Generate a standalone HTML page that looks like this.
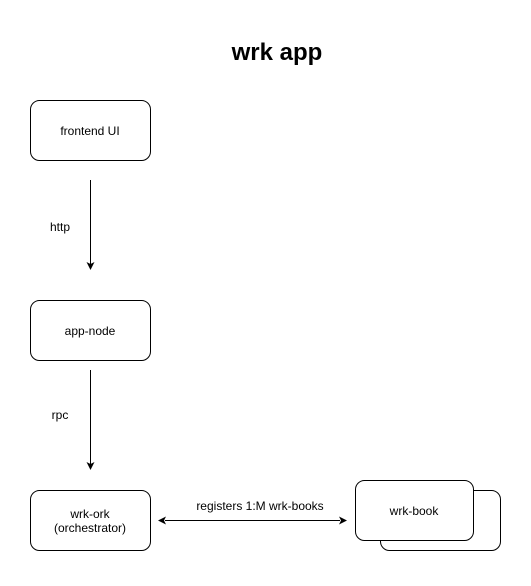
<!DOCTYPE html>
<html><head><style>
body{margin:0;background:#fff;}
svg text{font-family:"Liberation Sans",Helvetica,sans-serif;}
</style></head><body>
<svg width="531" height="581" xmlns="http://www.w3.org/2000/svg">
<rect width="531" height="581" fill="#fff"/>
<text x="277" y="60" font-size="24" font-weight="bold" text-anchor="middle">wrk app</text>
<g fill="#fff" stroke="#000" stroke-width="1">
<rect x="30.5" y="100.5" width="120" height="60" rx="9"/>
<rect x="30.5" y="300.5" width="120" height="60" rx="9"/>
<rect x="30.5" y="490.5" width="120" height="60" rx="9"/>
<rect x="380.5" y="490.5" width="120" height="60" rx="9"/>
<rect x="355.5" y="480.5" width="118" height="60" rx="9"/>
</g>
<g font-size="12" text-anchor="middle">
<text x="90" y="135">frontend UI</text>
<text x="90" y="335">app-node</text>
<text x="90" y="518">wrk-ork</text>
<text x="90" y="532">(orchestrator)</text>
<text x="414" y="515">wrk-book</text>
<text x="260" y="510">registers 1:M wrk-books</text>
<text x="60" y="231">http</text>
<text x="60" y="419">rpc</text>
</g>
<g stroke="#000" stroke-width="1">
<line x1="90.5" y1="180" x2="90.5" y2="265"/>
<line x1="90.5" y1="370" x2="90.5" y2="465"/>
<line x1="165" y1="520.5" x2="340" y2="520.5"/>
</g>
<g fill="#000">
<path d="M86.5,262 L90.5,270 L94.5,262 L90.5,264 Z"/>
<path d="M86.5,462 L90.5,470 L94.5,462 L90.5,464 Z"/>
<path d="M166,516.5 L158,520.5 L166,524.5 L164,520.5 Z"/>
<path d="M339,516.5 L347,520.5 L339,524.5 L341,520.5 Z"/>
</g>
</svg>
</body></html>
